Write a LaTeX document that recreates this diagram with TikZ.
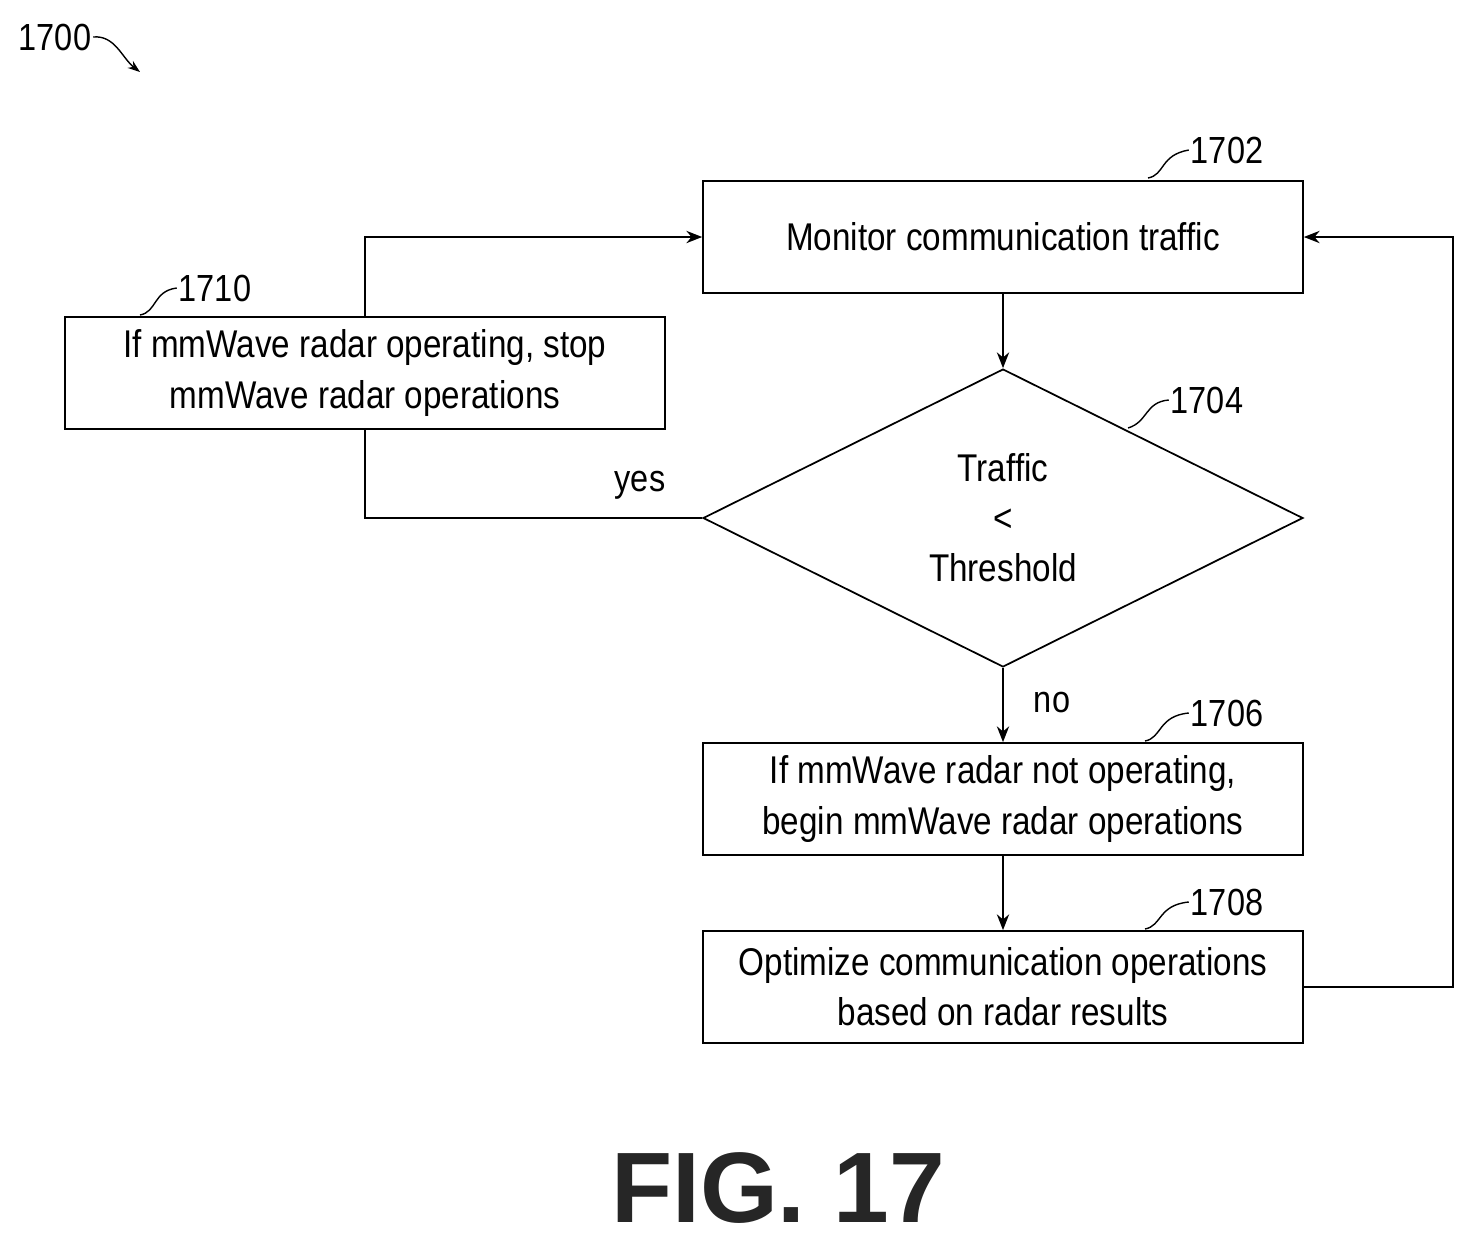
\documentclass[tikz,border=0pt]{standalone}
\usepackage{fontspec}
\setmainfont{Liberation Sans}[FakeStretch=0.86]
\newfontfamily\figfont{Liberation Sans}[FakeStretch=1.0]
\usetikzlibrary{arrows.meta,shapes.geometric}
\begin{document}
\begin{tikzpicture}[x=0.02cm,y=-0.02cm,
  box/.style={draw,line width=1pt,minimum width=12cm,minimum height=2.24cm,align=center,inner sep=0pt,font=\fontsize{22}{28.5}\selectfont},
  lbl/.style={font=\fontsize{21.5}{24}\selectfont,inner sep=1pt},
  arr/.style={line width=1pt,-{Stealth[length=9pt,width=7pt]}},
  ln/.style={line width=1pt},
  sq/.style={line width=0.8pt}]
\useasboundingbox (0,0) rectangle (1475,1245);
\node[box] (b2) at (1003,237) {Monitor communication traffic};
\node[draw,line width=1pt,diamond,minimum width=12cm,minimum height=5.96cm,inner sep=0pt,align=center,font=\fontsize{22}{28.5}\selectfont,aspect=2] (d4) at (1003,518) {Traffic\\<\\Threshold};
\node[box] (b6) at (1003,799) {If mmWave radar not operating,\\begin mmWave radar operations};
\node[box] (b8) at (1003,987) {Optimize communication operations\\based on radar results};
\node[box] (b10) at (365,373) {If mmWave radar operating, stop\\mmWave radar operations};
\draw[arr] (b2.south) -- (d4.north);
\draw[arr] (d4.south) -- (b6.north);
\draw[arr] (b6.south) -- (b8.north);
\coordinate (r1) at (1453,987); \coordinate (r2) at (1453,237);
\draw[arr] (b8.east) -- (r1) -- (r2) -- (b2.east);
\coordinate (y1) at (365,518);
\draw[ln] (d4.west) -- (y1) -- (b10.south);
\coordinate (t1) at (365,237);
\draw[arr] (b10.north) -- (t1) -- (b2.west);
\node[lbl] (yes) at (640,485) {yes};
\node[lbl] (no) at (1052,703) {no};
\node[lbl] (n1702) at (1227,150) {1702};
\node[lbl] (n1704) at (1207,400) {1704};
\node[lbl] (n1706) at (1227,713) {1706};
\node[lbl] (n1708) at (1227,902) {1708};
\node[lbl] (n1710) at (215,288) {1710};
\node[lbl] (n1700) at (55,37) {1700};
\coordinate (s2) at (1148,178); \coordinate (s4) at (1128,428);
\coordinate (s6) at (1145,741); \coordinate (s8) at (1145,929);
\coordinate (s10) at (140,315);
\draw[sq] (s2) .. controls (1165,175) and (1160,155) .. (n1702.west);
\draw[sq] (s4) .. controls (1148,422) and (1145,402) .. (n1704.west);
\draw[sq] (s6) .. controls (1162,738) and (1158,716) .. (n1706.west);
\draw[sq] (s8) .. controls (1162,926) and (1158,905) .. (n1708.west);
\draw[sq] (s10) .. controls (157,312) and (153,291) .. (n1710.west);
\coordinate (s0) at (140,72);
\draw[sq,-{Stealth[length=7pt,width=5pt]}] (n1700.east) .. controls (115,35) and (122,58) .. (s0);
\node[font=\figfont\bfseries\fontsize{57}{64}\selectfont,text=black!85] (fig) at (778,1188) {FIG. 17};
\end{tikzpicture}
\end{document}
